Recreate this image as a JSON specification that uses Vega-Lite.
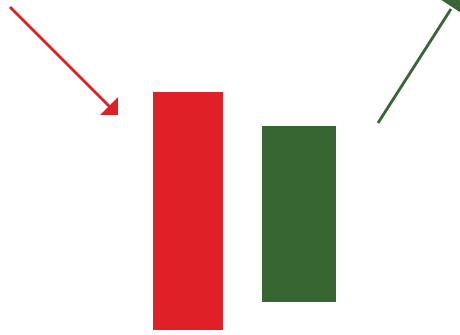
{
  "$schema": "https://vega.github.io/schema/vega-lite/v6.json",
  "autosize": {"type": "none"},
  "padding": 0,
  "width": 460,
  "height": 335,
  "background": "white",
  "config": {"view": {"stroke": null}},
  "datasets": {
    "bars": [
      {"name": "down", "x0": 153, "x1": 223, "y0": 92, "y1": 330},
      {"name": "up", "x0": 262, "x1": 336, "y0": 126, "y1": 302}
    ],
    "arrows": [
      {"name": "down", "x0": 10, "y0": 7, "x1": 112, "y1": 109, "hx": 109, "hy": 106, "angle": 135},
      {"name": "up", "x0": 378, "y0": 123, "x1": 451, "y1": 9, "hx": 452, "hy": 7, "angle": 33}
    ]
  },
  "layer": [
    {
      "data": {"name": "bars"},
      "mark": {"type": "rect"},
      "encoding": {
        "x": {"field": "x0", "type": "quantitative", "scale": {"domain": [0, 460], "nice": false, "zero": false}, "axis": null},
        "x2": {"field": "x1"},
        "y": {"field": "y0", "type": "quantitative", "scale": {"domain": [0, 335], "nice": false, "zero": false, "reverse": true}, "axis": null},
        "y2": {"field": "y1"},
        "color": {"field": "name", "type": "nominal", "scale": {"domain": ["down", "up"], "range": ["#df2027", "#376633"]}, "legend": null}
      }
    },
    {
      "data": {"name": "arrows"},
      "mark": {"type": "rule", "strokeWidth": 3},
      "encoding": {
        "x": {"field": "x0", "type": "quantitative"},
        "x2": {"field": "x1"},
        "y": {"field": "y0", "type": "quantitative"},
        "y2": {"field": "y1"},
        "color": {"field": "name", "type": "nominal", "legend": null}
      }
    },
    {
      "data": {"name": "arrows"},
      "mark": {"type": "point", "filled": true, "opacity": 1, "shape": "M0,-1L1,0L-1,0Z", "size": 650},
      "encoding": {
        "x": {"field": "hx", "type": "quantitative"},
        "y": {"field": "hy", "type": "quantitative"},
        "angle": {"field": "angle", "type": "quantitative", "scale": null},
        "color": {"field": "name", "type": "nominal", "legend": null}
      }
    }
  ]
}
